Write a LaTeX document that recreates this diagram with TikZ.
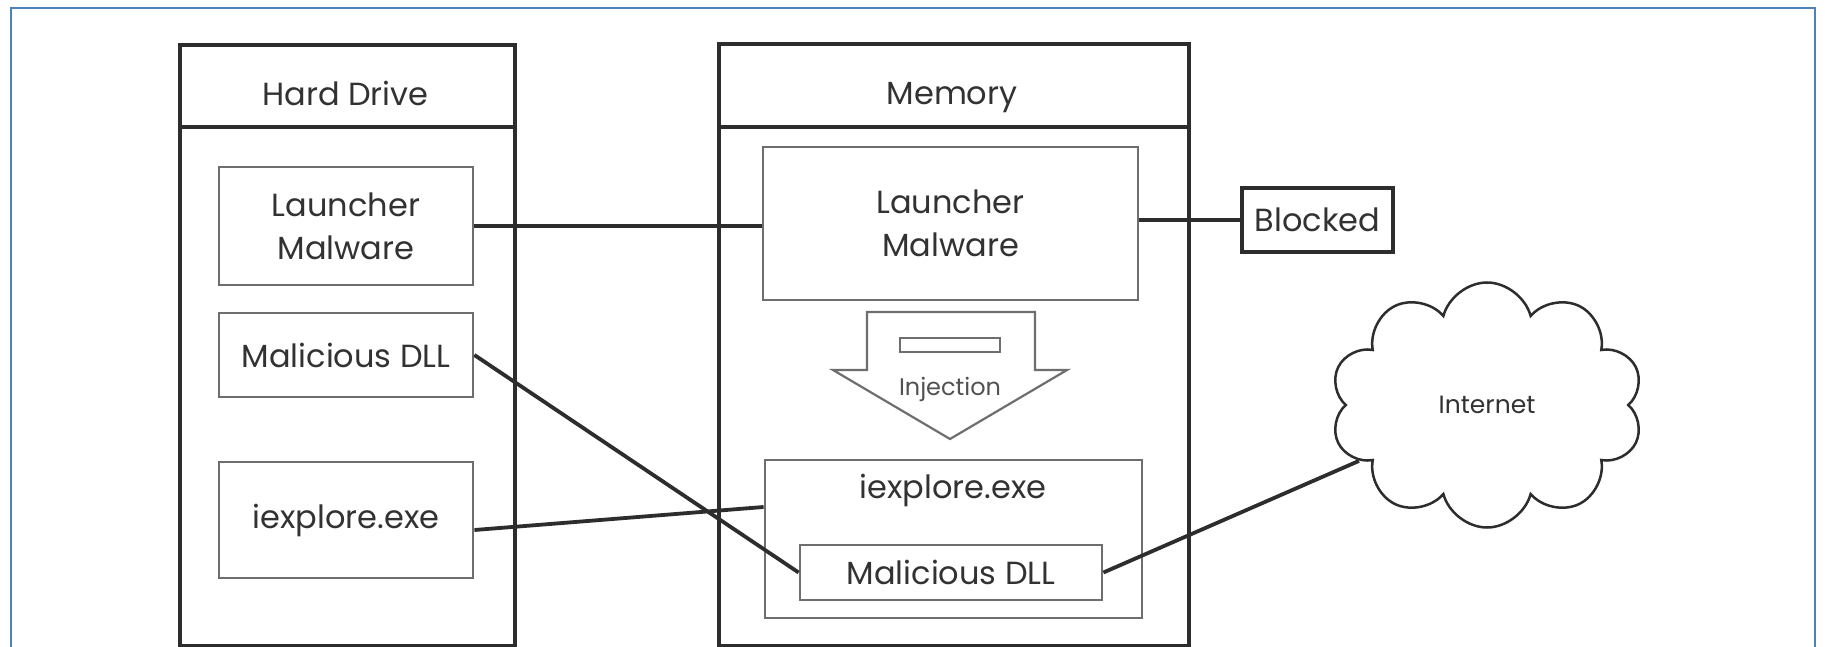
\documentclass[tikz,border=0pt]{standalone}
\usepackage{fontspec}
\setmainfont{Poppins}
\usetikzlibrary{shapes.symbols,calc}
\definecolor{frameblue}{RGB}{79,129,189}
\definecolor{ink}{RGB}{45,45,45}
\definecolor{innergray}{RGB}{110,110,110}
\definecolor{txt}{RGB}{50,50,50}
\begin{document}
\begin{tikzpicture}[x=1pt,y=-1pt,
  outerbox/.style={draw=ink,line width=4pt,inner sep=0pt},
  innerbox/.style={draw=innergray,line width=2.8pt,inner sep=0pt},
  lbl/.style={text=txt,font=\fontsize{32}{43}\selectfont,align=center},
  conn/.style={draw=ink,line width=3.8pt},
  smalllbl/.style={text=txt!85,font=\fontsize{24}{28}\selectfont}
]
\useasboundingbox (0,0) rectangle (1825,647);
\clip (0,0) rectangle (1825,647);
\fill[white] (0,0) rectangle (1825,647);
\draw[frameblue,line width=2.5pt] (11,8) rectangle (1815,690);

% Hard Drive column
\node[outerbox,minimum width=335,minimum height=601,anchor=north west] (hd) at (178,43) {};
\draw[ink,line width=4pt] (hd.west |- 0,127) -- (hd.east |- 0,127);
\node[lbl,anchor=base] (hdtitle) at (345.5,106) {Hard Drive};
\node[innerbox,lbl,minimum width=254,minimum height=118] (hdl) at (346,226) {Launcher\\Malware};
\node[innerbox,lbl,minimum width=254,minimum height=84] (hdd) at (346,355) {Malicious DLL};
\node[innerbox,lbl,minimum width=254,minimum height=116] (hdi) at (346,520) {iexplore.exe};

% Memory column
\node[outerbox,minimum width=470,minimum height=602,anchor=north west] (mem) at (717,42) {};
\draw[ink,line width=4pt] (mem.west |- 0,127) -- (mem.east |- 0,127);
\node[lbl,anchor=base] (memtitle) at (952,105) {Memory};
\node[innerbox,lbl,minimum width=375,minimum height=153] (meml) at (950.5,223.5) {Launcher\\Malware};
\node[innerbox,minimum width=377,minimum height=158] (memi) at (953.5,539) {};
\node[lbl,anchor=base] (memitxt) at (953,498) {iexplore.exe};
\node[innerbox,lbl,minimum width=302,minimum height=55,fill=white] (memd) at (951,572.5) {Malicious DLL};

% Injection arrow
\draw[innergray,line width=2.2pt,line join=miter] (867,312) -- (1035,312) -- (1035,370) -- (1067,370)
  -- (950,439) -- (833,370) -- (867,370) -- cycle;
\draw[innergray,line width=2pt] (900,338) rectangle (1000,352);
\node[smalllbl,anchor=base] (inj) at (950,395) {Injection};

% Blocked
\node[draw=ink,line width=4pt,lbl,minimum width=151,minimum height=64,inner sep=0pt] (blocked) at (1317.5,220) {Blocked};

% Internet cloud
\node[cloud,cloud puffs=10,cloud ignores aspect,draw=ink,line width=2.5pt,
  minimum width=313,minimum height=245,inner sep=0pt,
  text=txt,font=\fontsize{25}{30}\selectfont] (net) at (1487,405) {Internet};

% Connectors
\draw[conn] (hdl.east) -- (hdl.east -| meml.west);
\draw[conn] (meml.east |- blocked.west) -- (blocked.west);
\draw[conn] (hdd.east) -- (memd.west);
\draw[conn] ($(hdi.east)+(0,10)$) -- ($(memi.west)+(0,-32)$);
\draw[conn] (memd.east) -- (net);
\end{tikzpicture}
\end{document}
